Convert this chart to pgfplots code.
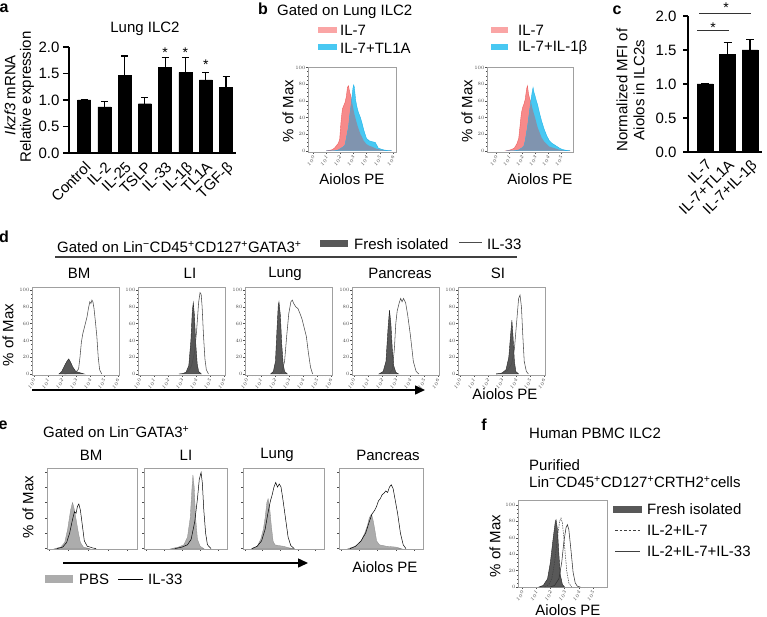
\documentclass[border=0pt]{standalone}
\usepackage{pgfplots}
\pgfplotsset{compat=1.18}
\usepackage{pgfplotstable}
\usepackage{fontspec}
\setmainfont{Liberation Sans}
\usetikzlibrary{arrows.meta}

\definecolor{pinkf}{RGB}{247,138,138}
\definecolor{pinkl}{RGB}{238,95,95}
\definecolor{pinks}{RGB}{250,165,165}
\definecolor{bluef}{RGB}{72,200,242}
\definecolor{bluel}{RGB}{30,180,235}
\definecolor{ovl}{RGB}{128,148,175}
\definecolor{darkf}{RGB}{88,88,88}
\definecolor{pbsf}{RGB}{172,172,172}
\definecolor{framec}{RGB}{160,160,160}

\pgfplotstableread{
x p b o
1.0 0 0 0
1.4 1 0 0
1.6 3 0 0
1.8 7 0.5 0.5
1.9 9 1 1
2.0 14 2 2
2.1 35 3 3
2.2 50 4 4
2.3 54 5 5
2.4 58 7 7
2.5 65 15 15
2.58 76 22 22
2.66 78 28 28
2.75 70 42 42
2.83 66 52 52
2.9 60 62 60
3.0 52 76 52
3.05 48 79 48
3.1 44 76 44
3.2 38 60 38
3.3 32 52 32
3.4 27 46 27
3.55 20 40 20
3.66 17 34 17
3.8 12 25 12
4.0 8 15 8
4.2 6 12 6
4.4 5 11 5
4.66 3 10 3
4.8 2 6 2
4.9 2 3 2
5.1 1 2 1
5.3 0.5 1 0.5
5.6 0 0.3 0
5.9 0 0 0
}\bone

\pgfplotstableread{
x p b o
0.8 0 0 0
1.1 1 0 0
1.4 3 0 0
1.6 8 0.5 0.5
1.75 15 1 1
1.85 30 2 2
1.95 45 3 3
2.05 52 4 4
2.15 56 6 6
2.25 62 12 12
2.35 74 22 22
2.42 78 28 28
2.5 68 38 38
2.6 62 50 50
2.7 58 62 58
2.78 52 70 52
2.85 48 76 48
2.92 44 70 44
3.0 40 66 40
3.1 34 60 34
3.2 28 55 28
3.35 22 45 22
3.5 16 36 16
3.7 11 26 11
3.9 8 18 8
4.1 5 12 5
4.3 4 9 4
4.5 3 7 3
4.7 2 5 2
4.9 1 3 1
5.1 0.5 1.5 0.5
5.4 0 0.5 0
5.7 0 0 0
}\btwo

\pgfplotsset{
  hist/.style={
    scale only axis, anchor=south west,
    axis line style={framec, line width=0.5pt},
    tick align=outside, xtick pos=bottom, ytick pos=left,
    major tick length=1.8pt, minor tick length=1pt,
    tick style={black!70, line width=0.3pt},
    ytick={0,20,40,60,80,100}, minor y tick num=3,
    xtick={0,...,6}, minor x tick num=4,
    tick label style={font=\fontsize{3}{3}\selectfont, inner sep=0.5pt, text=black!70},
    xticklabels={$10^0$,$10^1$,$10^2$,$10^3$,$10^4$,$10^5$,$10^6$},
    xticklabel style={rotate=45, anchor=north east},
  },
  dhist/.style={hist, width=87pt, height=88pt, xmin=-0.12, xmax=6.08, ymin=-1.2, ymax=103.6},
  ehist/.style={hist, height=81pt, xmin=-0.1, xmax=4.48, ymin=-0.5, ymax=104.8,
    xtick={0,...,4}, xticklabels={}, yticklabels={}, minor x tick num=0, minor y tick num=0},
  darkfill/.style={fill=darkf, draw=black!85, line width=0.4pt},
  openl/.style={draw=black!70, line width=0.55pt},
  pbs/.style={fill=pbsf, draw=pbsf!80!black, line width=0.3pt},
}

\newcommand{\fs}{\fontsize{15}{17}\selectfont}

\begin{document}
\begin{tikzpicture}[font=\fs]
\useasboundingbox (0pt,0pt) rectangle (767pt,-617pt);

% ---------------- panel a ----------------
\node[font=\fontsize{16}{16}\selectfont\bfseries] at (4pt,-8pt) {a};
\node at (145pt,-29pt) {Lung ILC2};
\node[rotate=90] at (10pt,-95pt) {\textit{Ikzf3} mRNA};
\node[rotate=90] at (27pt,-97pt) {Relative expression};
\begin{axis}[at={(69pt,-153pt)}, anchor=south west, scale only axis,
  width=167pt, height=106pt,
  xmin=-0.74, xmax=7.49, ymin=0, ymax=2,
  axis x line*=bottom, axis y line*=left,
  axis line style={-, line width=1.2pt},
  ybar, bar width=13pt,
  xtick={0,...,7},
  xticklabels={Control,IL-2,IL-25,TSLP,IL-33,IL-1β,TL1A,TGF-β},
  x tick style={draw=none},
  xticklabel style={rotate=45, anchor=north east, inner sep=1pt},
  ytick={0,0.5,1,1.5,2},
  yticklabel style={/pgf/number format/.cd, fixed, fixed zerofill, precision=1},
  y tick style={line width=1.2pt, black}, major tick length=6pt, tick align=outside,
  tick label style={font=\fs},
  /pgf/number format/assume math mode=true, clip=false]
\addplot[fill=black, draw=black, error bars/.cd, y dir=plus, y explicit,
  error bar style={line width=1.2pt, black},
  error mark options={rotate=90, mark size=3.5pt, line width=1.2pt, black}]
coordinates {(0,1.0) +- (0,0) (1,0.87) +- (0,0.10) (2,1.46) +- (0,0.37) (3,0.93) +- (0,0.12)
 (4,1.61) +- (0,0.19) (5,1.52) +- (0,0.28) (6,1.38) +- (0,0.14) (7,1.24) +- (0,0.21)};
\node[anchor=base, font=\fontsize{14}{14}\selectfont] at (axis cs:4,1.80) {*};
\node[anchor=base, font=\fontsize{14}{14}\selectfont] at (axis cs:5,1.80) {*};
\node[anchor=base, font=\fontsize{14}{14}\selectfont] at (axis cs:6,1.58) {*};
\end{axis}

% ---------------- panel b ----------------
\node[font=\fontsize{16}{16}\selectfont\bfseries] at (263pt,-9pt) {b};
\node[anchor=west, inner sep=0pt] at (277pt,-12pt) {Gated on Lung ILC2};
\fill[pinks] (318pt,-27pt) rectangle (337pt,-33pt);
\node[anchor=west, inner sep=0pt] at (340pt,-30pt) {IL-7};
\fill[bluef] (318pt,-44pt) rectangle (337pt,-50pt);
\node[anchor=west, inner sep=0pt] at (340pt,-48pt) {IL-7+TL1A};
\fill[pinks] (491pt,-27pt) rectangle (508pt,-33pt);
\node[anchor=west, inner sep=0pt] at (518pt,-30pt) {IL-7};
\fill[bluef] (491pt,-44pt) rectangle (508pt,-50pt);
\node[anchor=west, inner sep=0pt] at (518pt,-48pt) {IL-7+IL-1β};
\node[rotate=90] at (288pt,-111pt) {\% of Max};
\node[rotate=90] at (467pt,-111pt) {\% of Max};
\node at (352pt,-179pt) {Aiolos PE};
\node at (540pt,-179pt) {Aiolos PE};

\begin{axis}[hist, at={(308pt,-152pt)}, width=88pt, height=85pt,
  xmin=-0.375, xmax=6.22, ymin=-1.5, ymax=100.5]
\addplot[fill=pinkf, draw=pinkl, line width=0.4pt] table[x=x,y=p]{\bone} \closedcycle;
\addplot[fill=bluef, draw=bluel, line width=0.4pt] table[x=x,y=b]{\bone} \closedcycle;
\addplot[fill=ovl, draw=none] table[x=x,y=o]{\bone} \closedcycle;
\end{axis}
\begin{axis}[hist, at={(487pt,-152pt)}, width=86pt, height=85pt,
  xmin=-0.69, xmax=5.92, ymin=-1.5, ymax=100.5]
\addplot[fill=pinkf, draw=pinkl, line width=0.4pt] table[x=x,y=p]{\btwo} \closedcycle;
\addplot[fill=bluef, draw=bluel, line width=0.4pt] table[x=x,y=b]{\btwo} \closedcycle;
\addplot[fill=ovl, draw=none] table[x=x,y=o]{\btwo} \closedcycle;
\end{axis}

% ---------------- panel c ----------------
\node[font=\fontsize{16}{16}\selectfont\bfseries] at (617pt,-10pt) {c};
\node[rotate=90] at (622pt,-90pt) {Normalized MFI of};
\node[rotate=90] at (639pt,-90pt) {Aiolos in ILC2s};
\begin{axis}[at={(688pt,-152pt)}, anchor=south west, scale only axis,
  width=74pt, height=136pt,
  xmin=-0.76, xmax=2.53, ymin=0, ymax=2,
  axis x line*=bottom, axis y line*=left,
  axis line style={-, line width=1.2pt},
  ybar, bar width=16pt,
  xtick={0,1,2},
  xticklabels={IL-7,IL-7+TL1A,IL-7+IL-1β},
  x tick style={draw=none},
  xticklabel style={rotate=45, anchor=north east, inner sep=1pt},
  ytick={0,0.5,1,1.5,2},
  yticklabel style={xshift=-3pt, /pgf/number format/.cd, fixed, fixed zerofill, precision=1},
  y tick style={line width=1.2pt, black}, major tick length=5pt, tick align=outside,
  tick label style={font=\fs},
  /pgf/number format/assume math mode=true, clip=false]
\addplot[fill=black, draw=black, error bars/.cd, y dir=plus, y explicit,
  error bar style={line width=1.2pt, black},
  error mark options={rotate=90, mark size=4pt, line width=1.2pt, black}]
coordinates {(0,1.0) +- (0,0) (1,1.44) +- (0,0.17) (2,1.50) +- (0,0.16)};
\end{axis}
\begin{axis}[at={(688pt,-152pt)}, anchor=south west, scale only axis,
  width=74pt, height=136pt,
  xmin=-0.76, xmax=2.53, ymin=0, ymax=2, hide axis, clip=false]
\addplot[black!80, line width=1pt] coordinates {(-0.36,1.78) (1.07,1.78)};
\addplot[black!80, line width=1pt] coordinates {(-0.27,2.03) (2.04,2.03)};
\node[anchor=base, font=\fontsize{14}{14}\selectfont] at (axis cs:0.36,1.76) {*};
\node[anchor=base, font=\fontsize{14}{14}\selectfont] at (axis cs:0.93,2.05) {*};
\end{axis}

% ---------------- panel d ----------------
\node[font=\fontsize{16}{16}\selectfont\bfseries] at (4pt,-237pt) {d};
\node[anchor=west, inner sep=0pt] at (57pt,-247pt) {Gated on Lin\textsuperscript{−}CD45\textsuperscript{+}CD127\textsuperscript{+}GATA3\textsuperscript{+}};
\draw[black!75, line width=1.2pt] (55pt,-257pt) -- (517pt,-257pt);
\fill[darkf] (320pt,-240pt) rectangle (348pt,-247pt);
\node[anchor=west, inner sep=0pt] at (354pt,-244pt) {Fresh isolated};
\draw[black!70, line width=0.6pt] (459pt,-242pt) -- (482pt,-242pt);
\node[anchor=west, inner sep=0pt] at (487pt,-244pt) {IL-33};
\node at (79pt,-273.5pt) {BM};
\node at (190pt,-273.5pt) {LI};
\node at (285pt,-273.5pt) {Lung};
\node at (400pt,-273.5pt) {Pancreas};
\node at (498pt,-273.5pt) {SI};
\node[rotate=90] at (8pt,-335pt) {\% of Max};
\draw[line width=1.5pt, -{Triangle[length=10pt,width=9pt]}] (32pt,-390pt) -- (425pt,-390pt);
\node at (505pt,-394pt) {Aiolos PE};

\begin{axis}[dhist, at={(32pt,-375pt)}]
\addplot[darkfill] coordinates {(1.8,0)(2.0,3)(2.2,10)(2.4,16)(2.5,18)(2.6,15)(2.8,8)(3.0,3)(3.2,2)(3.4,1)(3.6,0)} \closedcycle;
\addplot[openl] coordinates {(2.2,0)(2.6,1)(3.0,2)(3.2,6)(3.3,20)(3.4,38)(3.5,48)(3.65,58)(3.8,68)(3.9,78)(4.0,86)(4.08,84)(4.15,88)(4.22,86)(4.3,78)(4.4,62)(4.5,45)(4.6,20)(4.7,5)(4.85,0)};
\end{axis}
\begin{axis}[dhist, at={(138pt,-375pt)}]
\addplot[darkfill] coordinates {(3.0,0)(3.3,2)(3.5,10)(3.65,40)(3.75,75)(3.82,85)(3.9,70)(4.0,35)(4.1,12)(4.2,3)(4.4,0)} \closedcycle;
\addplot[openl] coordinates {(2.8,0)(3.2,1)(3.5,4)(3.7,10)(3.9,25)(4.05,50)(4.2,85)(4.3,97)(4.38,95)(4.45,80)(4.55,45)(4.65,18)(4.75,5)(4.9,0)};
\end{axis}
\begin{axis}[dhist, at={(245pt,-375pt)}]
\addplot[darkfill] coordinates {(1.7,0)(1.9,3)(2.05,15)(2.15,50)(2.25,82)(2.3,86)(2.4,70)(2.5,35)(2.6,12)(2.7,3)(2.9,0)} \closedcycle;
\addplot[openl] coordinates {(2.3,0)(2.5,2)(2.7,15)(2.85,45)(3.0,72)(3.15,86)(3.25,88)(3.35,84)(3.5,80)(3.65,78)(3.8,72)(3.95,65)(4.1,55)(4.25,45)(4.4,25)(4.55,8)(4.7,0)};
\end{axis}
\begin{axis}[dhist, at={(352pt,-375pt)}]
\addplot[darkfill] coordinates {(1.8,0)(2.1,3)(2.3,15)(2.45,55)(2.55,76)(2.65,60)(2.75,30)(2.85,10)(3.0,2)(3.2,0)} \closedcycle;
\addplot[openl] coordinates {(2.5,0)(2.75,5)(2.9,30)(3.0,60)(3.1,75)(3.25,85)(3.35,90)(3.45,86)(3.55,90)(3.7,85)(3.85,70)(4.05,45)(4.25,15)(4.45,3)(4.65,0)};
\end{axis}
\begin{axis}[dhist, at={(458pt,-375pt)}]
\addplot[darkfill] coordinates {(2.6,0)(3.0,1)(3.3,5)(3.5,20)(3.62,45)(3.72,64)(3.8,45)(3.9,15)(4.0,3)(4.2,0)} \closedcycle;
\addplot[openl] coordinates {(2.6,0)(3.0,1)(3.4,4)(3.7,12)(3.9,30)(4.05,60)(4.2,90)(4.3,94)(4.4,80)(4.5,45)(4.6,15)(4.75,3)(4.9,0)};
\end{axis}

% ---------------- panel e ----------------
\node[font=\fontsize{16}{16}\selectfont\bfseries] at (3pt,-425pt) {e};
\node[anchor=west, inner sep=0pt] at (43pt,-432pt) {Gated on Lin\textsuperscript{−}GATA3\textsuperscript{+}};
\node at (91pt,-455pt) {BM};
\node at (186pt,-455pt) {LI};
\node at (277pt,-455pt) {Lung};
\node at (388pt,-455pt) {Pancreas};
\node[rotate=90] at (28pt,-507pt) {\% of Max};
\draw[line width=1.5pt, -{Triangle[length=10pt,width=9pt]}] (63pt,-563pt) -- (308pt,-563pt);
\node at (385pt,-567pt) {Aiolos PE};
\fill[pbsf] (45pt,-575pt) rectangle (73pt,-583pt);
\node[anchor=west, inner sep=0pt] at (79pt,-579pt) {PBS};
\draw[black, line width=0.6pt] (118pt,-579pt) -- (143pt,-579pt);
\node[anchor=west, inner sep=0pt] at (148pt,-579pt) {IL-33};

\begin{axis}[ehist, at={(47pt,-549pt)}, width=90pt]
\addplot[pbs] coordinates {(0.3,0)(0.6,2)(0.8,8)(0.95,25)(1.1,50)(1.2,60)(1.3,50)(1.4,35)(1.5,20)(1.6,8)(1.75,2)(1.9,1)(2.1,0)} \closedcycle;
\addplot[black, line width=0.5pt] coordinates {(0.4,0)(0.7,2)(0.9,8)(1.05,20)(1.2,38)(1.3,48)(1.38,46)(1.45,55)(1.52,58)(1.6,50)(1.7,30)(1.8,10)(1.95,3)(2.1,2)(2.2,1)(2.4,0)};
\end{axis}
\begin{axis}[ehist, at={(144pt,-549pt)}, width=83pt]
\addplot[pbs] coordinates {(1.4,0)(1.8,2)(2.1,5)(2.3,15)(2.45,40)(2.55,80)(2.6,96)(2.67,80)(2.75,40)(2.85,12)(3.0,3)(3.2,0)} \closedcycle;
\addplot[black, line width=0.5pt] coordinates {(1.6,0)(2.0,2)(2.3,5)(2.5,12)(2.7,35)(2.85,65)(2.95,90)(3.05,99)(3.12,85)(3.2,50)(3.3,20)(3.4,5)(3.6,0)};
\end{axis}
\begin{axis}[ehist, at={(243pt,-549pt)}, width=81pt]
\addplot[pbs] coordinates {(0.4,0)(0.7,3)(0.9,12)(1.05,25)(1.15,40)(1.25,60)(1.32,65)(1.4,55)(1.5,30)(1.6,10)(1.7,5)(1.9,4)(2.2,3)(2.5,1)(2.8,0)} \closedcycle;
\addplot[black, line width=0.5pt] coordinates {(0.4,0)(0.7,3)(0.95,10)(1.15,25)(1.3,45)(1.45,62)(1.55,70)(1.65,80)(1.75,86)(1.85,80)(1.95,84)(2.05,80)(2.15,65)(2.3,40)(2.45,15)(2.6,4)(2.8,0)};
\end{axis}
\begin{axis}[ehist, at={(339pt,-549pt)}, width=84pt]
\addplot[pbs] coordinates {(0.4,0)(0.8,3)(1.1,10)(1.3,20)(1.45,30)(1.55,40)(1.67,45)(1.75,38)(1.85,25)(1.95,10)(2.1,5)(2.5,3)(3.0,2)(3.3,0)} \closedcycle;
\addplot[black, line width=0.5pt] coordinates {(0.5,0)(0.8,3)(1.1,10)(1.35,20)(1.55,35)(1.7,45)(1.85,50)(1.95,55)(2.05,62)(2.15,65)(2.25,70)(2.35,72)(2.45,75)(2.55,73)(2.65,80)(2.75,83)(2.85,78)(2.95,65)(3.1,45)(3.25,20)(3.4,5)(3.55,0)};
\end{axis}

% ---------------- panel f ----------------
\node[font=\fontsize{16}{16}\selectfont\bfseries] at (484pt,-425pt) {f};
\node[anchor=west, inner sep=0pt] at (529pt,-433pt) {Human PBMC ILC2};
\node[anchor=west, inner sep=0pt] at (529pt,-465pt) {Purified};
\node[anchor=west, inner sep=0pt] at (529pt,-482pt) {Lin\textsuperscript{−}CD45\textsuperscript{+}CD127\textsuperscript{+}CRTH2\textsuperscript{+}cells};
\node[rotate=90] at (495pt,-546pt) {\% of Max};
\node at (568pt,-610pt) {Aiolos PE};
\fill[darkf] (613pt,-506pt) rectangle (642pt,-513pt);
\node[anchor=west, inner sep=0pt] at (647pt,-509.5pt) {Fresh isolated};
\draw[black!75, line width=0.6pt, dash pattern=on 2.5pt off 2pt] (615pt,-530pt) -- (640pt,-530pt);
\node[anchor=west, inner sep=0pt] at (647pt,-530pt) {IL-2+IL-7};
\draw[black!75, line width=0.6pt] (615pt,-551pt) -- (640pt,-551pt);
\node[anchor=west, inner sep=0pt] at (647pt,-551pt) {IL-2+IL-7+IL-33};

\begin{axis}[hist, at={(518pt,-587pt)}, width=89pt, height=87pt,
  xmin=-0.28, xmax=5.99, ymin=0, ymax=106]
\addplot[darkfill] coordinates {(1.2,0)(1.5,2)(1.8,10)(2.0,30)(2.2,60)(2.35,80)(2.4,82)(2.5,70)(2.6,40)(2.7,15)(2.85,3)(3.0,0)} \closedcycle;
\addplot[black!75, line width=0.5pt, dash pattern=on 1.5pt off 1pt] coordinates {(1.6,0)(1.9,3)(2.1,10)(2.3,30)(2.5,60)(2.65,80)(2.75,84)(2.85,78)(3.0,50)(3.15,20)(3.3,5)(3.5,0)};
\addplot[black!80, line width=0.55pt] coordinates {(2.0,0)(2.3,2)(2.6,10)(2.8,30)(2.95,55)(3.1,72)(3.2,76)(3.3,70)(3.45,45)(3.6,18)(3.75,5)(3.9,1)(4.1,0)};
\end{axis}
\end{tikzpicture}
\end{document}
